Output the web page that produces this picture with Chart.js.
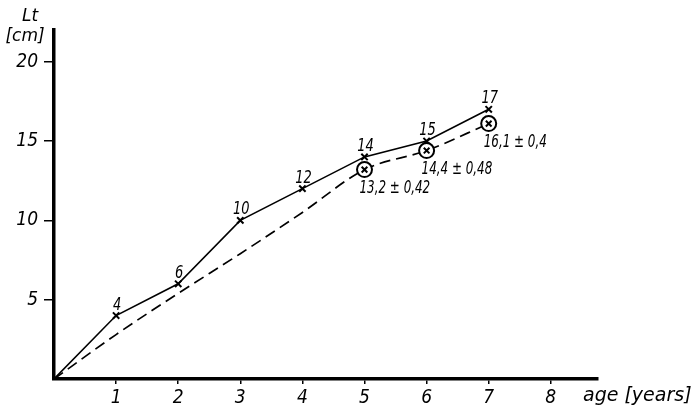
<!DOCTYPE html>
<html>
<head>
<meta charset="utf-8">
<script src="https://cdn.jsdelivr.net/npm/chart.js@4/dist/chart.umd.min.js"></script>
<style>
  html, body { margin: 0; padding: 0; background: #fff; }
  #wrap { width: 700px; height: 418px; position: relative; }
</style>
</head>
<body>
<div id="wrap"><canvas id="c" width="700" height="418"></canvas></div>
<script>
// ---- data ----
const ages = [0, 1, 2, 3, 4, 5, 6, 7];
const lengthObserved = [0, 4, 6, 10, 12, 14, 15, 17];
const observedLabels = ['', '4', '6', '10', '12', '14', '15', '17'];
const lengthMeanCurve = [0, 2.8, 5.4, 7.9, 10.5, 13.2, 14.4, 16.1];
const meanAges = [5, 6, 7];
const meanValues = [13.2, 14.4, 16.1];
const meanLabels = ['13,2 ± 0,42', '14,4 ± 0,48', '16,1 ± 0,4'];
const xTicks = [1, 2, 3, 4, 5, 6, 7, 8];
const yTicks = [5, 10, 15, 20];
const xTitle = 'age [years]';
const yTitle1 = 'Lt';
const yTitle2 = '[cm]';

const NARROW = '"DejaVu Sans Condensed", "DejaVu Sans", sans-serif';
const WIDE = '"DejaVu Sans", sans-serif';

function narrowText(ctx, text, x, y, sx) {
  ctx.save();
  ctx.translate(x, y);
  ctx.scale(sx, 1);
  ctx.fillText(text, 0, 0);
  ctx.restore();
}

const textPlugin = {
  id: 'textPlugin',
  afterDatasetsDraw(chart) {
    const ctx = chart.ctx;
    const xs = chart.scales.x, ys = chart.scales.y;
    ctx.save();
    ctx.fillStyle = '#000';
    ctx.font = 'italic 17px ' + NARROW;
    ctx.textAlign = 'center';
    ctx.textBaseline = 'alphabetic';
    ages.forEach((a, i) => {
      if (!observedLabels[i]) return;
      const px = xs.getPixelForValue(a);
      const py = ys.getPixelForValue(lengthObserved[i]);
      narrowText(ctx, observedLabels[i], px + 1, py - 6, 0.85);
    });
    ctx.textAlign = 'left';
    ctx.textBaseline = 'middle';
    meanAges.forEach((a, i) => {
      const px = xs.getPixelForValue(a);
      const py = ys.getPixelForValue(meanValues[i]);
      narrowText(ctx, meanLabels[i], px - 5, py + 19, 0.78);
    });
    // axis titles
    const ca = chart.chartArea;
    ctx.font = 'italic 19px ' + WIDE;
    ctx.textAlign = 'left';
    ctx.fillText(xTitle, ca.right - 15, ca.bottom + 17);
    ctx.textAlign = 'center';
    ctx.font = 'italic 17px ' + WIDE;
    ctx.fillText(yTitle1, 30, 17);
    ctx.fillText(yTitle2, 25, 37);
    ctx.restore();
  }
};

new Chart(document.getElementById('c'), {
  type: 'line',
  data: {
    datasets: [
      {
        label: 'cross overlay',
        data: meanAges.map((a, i) => ({ x: a, y: meanValues[i] })),
        showLine: false,
        pointStyle: 'crossRot',
        pointRadius: 4,
        pointBorderWidth: 2,
        borderColor: '#000',
        backgroundColor: '#000',
        order: 0
      },
      {
        label: 'mean circles',
        data: meanAges.map((a, i) => ({ x: a, y: meanValues[i] })),
        showLine: false,
        pointStyle: 'circle',
        pointRadius: 7.5,
        pointBorderWidth: 2,
        borderColor: '#000',
        backgroundColor: '#fff',
        order: 1
      },
      {
        label: 'observed',
        data: ages.map((a, i) => ({ x: a, y: lengthObserved[i] })),
        borderColor: '#000',
        borderWidth: 1.6,
        pointStyle: 'crossRot',
        pointRadius: ages.map((a, i) => i === 0 ? 0 : 4.5),
        pointBorderWidth: 2,
        pointBorderColor: '#000',
        fill: false,
        tension: 0,
        order: 2
      },
      {
        label: 'mean curve',
        data: ages.map((a, i) => ({ x: a, y: lengthMeanCurve[i] })),
        borderColor: '#000',
        borderWidth: 1.7,
        borderDash: [11, 6],
        pointRadius: 0,
        fill: false,
        cubicInterpolationMode: 'monotone',
        order: 3
      }
    ]
  },
  options: {
    responsive: false,
    animation: false,
    events: [],
    layout: { padding: { top: 30, right: 102, left: 0, bottom: 0 } },
    plugins: { legend: { display: false }, tooltip: { enabled: false } },
    scales: {
      x: {
        type: 'linear',
        min: 0,
        max: 8.76,
        afterBuildTicks: s => { s.ticks = xTicks.map(v => ({ value: v })); },
        afterFit: s => { s.height = 39; },
        grid: { drawOnChartArea: false, drawTicks: true, tickLength: 5, color: '#000', lineWidth: 1.5 },
        border: { display: true, color: '#000', width: 3.5 },
        ticks: { font: { family: NARROW, size: 19, style: 'italic' }, color: '#000', padding: 3, autoSkip: false, maxRotation: 0 }
      },
      y: {
        min: 0,
        max: 22,
        afterBuildTicks: s => { s.ticks = yTicks.map(v => ({ value: v })); },
        afterFit: s => { s.width = 54; },
        grid: { drawOnChartArea: false, drawTicks: true, tickLength: 10, color: '#000', lineWidth: 1.5 },
        border: { display: true, color: '#000', width: 3.5 },
        ticks: { font: { family: NARROW, size: 19, style: 'italic' }, color: '#000', padding: 6 }
      }
    }
  },
  plugins: [textPlugin]
});
</script>
</body>
</html>
